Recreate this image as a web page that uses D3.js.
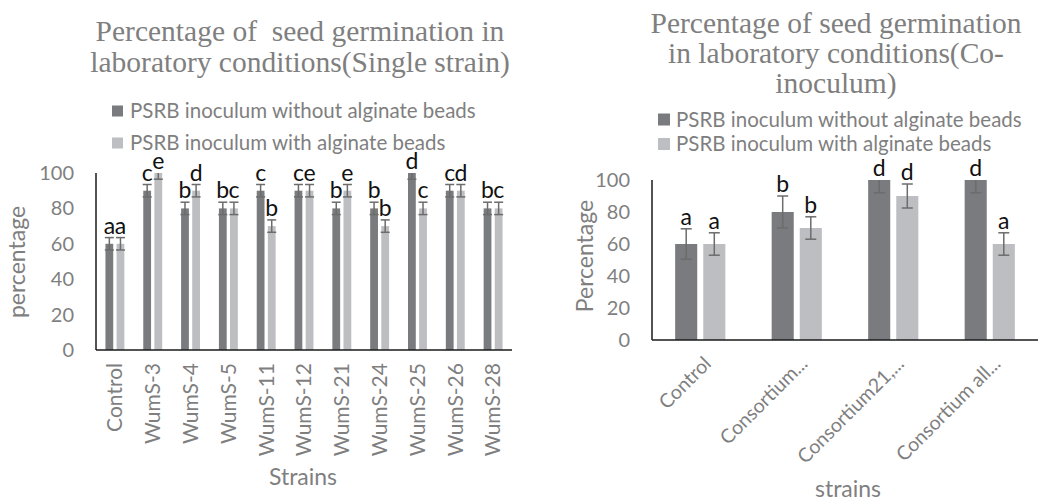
<!DOCTYPE html>
<meta charset="utf-8">
<style>
body { margin: 0; background: #fff; }
svg { display: block; }
.tick-label, .axis-title, .legend text { fill: #7f7f7f; font-family: Lato, "Noto Sans", sans-serif; }
.title { fill: #7f7f7f; font-family: "Liberation Serif", "DejaVu Serif", serif; font-size: 29.5px; white-space: pre; }
.letter { fill: #111; font-family: Lato, "Noto Sans", sans-serif; font-size: 23px; text-anchor: middle; }
</style>
<svg width="1040" height="502"></svg>
<script src="https://d3js.org/d3.v7.min.js"></script>
<script>

var seriesNames = ["PSRB inoculum without alginate beads", "PSRB inoculum with alginate beads"];
var seriesColors = ["#7a7b7f", "#bdbec2"];

// single strain chart
var singleStrains = ["Control", "WumS-3", "WumS-4", "WumS-5", "WumS-11", "WumS-12", "WumS-21", "WumS-24", "WumS-25", "WumS-26", "WumS-28"];
var singleWithout = [60, 90, 80, 80, 90, 90, 80, 80, 100, 90, 80];
var singleWith = [60, 100, 90, 80, 70, 90, 90, 70, 80, 90, 80];
var singleErrWithout = [3.5, 3.5, 3.5, 3.5, 3.5, 3.5, 3.5, 3.5, 3.5, 3.5, 3.5];
var singleErrWith = [3.5, 3.5, 3.5, 3.5, 3.5, 3.5, 3.5, 3.5, 3.5, 3.5, 3.5];
var singleLetWithout = ["a", "c", "b", "b", "c", "c", "b", "b", "d", "c", "b"];
var singleLetWith = ["a", "e", "d", "c", "b", "e", "e", "b", "c", "d", "c"];

// co-inoculum chart
var coStrains = ["Control", "Consortium...", "Consortium21,...", "Consortium all..."];
var coWithout = [60, 80, 100, 100];
var coWith = [60, 70, 90, 60];
var coErrWithout = [9.5, 10, 8, 8];
var coErrWith = [7, 7, 7.5, 7];
var coLetWithout = ["a", "b", "d", "d"];
var coLetWith = ["a", "b", "d", "a"];

var yTicks = [0, 20, 40, 60, 80, 100];

var svg = d3.select("svg");

function drawChart(cfg) {
  var g = svg.append("g");

  var x0 = d3.scaleBand()
      .domain(cfg.cats)
      .range([cfg.left, cfg.right])
      .paddingInner(cfg.gap)
      .paddingOuter(cfg.gap / 2);
  var x1 = d3.scaleBand()
      .domain([0, 1])
      .range([0, x0.bandwidth()])
      .paddingInner(cfg.inner);
  var y = d3.scaleLinear().domain([0, 100]).range([cfg.bottom, cfg.top]);

  var rows = cfg.cats.map(function(c, i) {
    return [
      {cat: c, s: 0, v: cfg.without[i], e: cfg.errWithout[i], l: cfg.letWithout[i]},
      {cat: c, s: 1, v: cfg.with[i], e: cfg.errWith[i], l: cfg.letWith[i]}
    ];
  });
  var items = d3.merge(rows);

  // bars
  g.selectAll("rect.bar")
    .data(items)
    .enter().append("rect")
      .attr("class", "bar")
      .attr("x", function(d) { return x0(d.cat) + x1(d.s); })
      .attr("y", function(d) { return y(d.v); })
      .attr("width", x1.bandwidth())
      .attr("height", function(d) { return y(0) - y(d.v); })
      .attr("fill", function(d) { return seriesColors[d.s]; });

  // error bars, clipped at the axis maximum like Excel does
  var eb = g.selectAll("g.err")
    .data(items)
    .enter().append("g")
      .attr("class", "err")
      .attr("stroke", "#6c6c6c")
      .attr("stroke-width", 1.5);
  var cx = function(d) { return x0(d.cat) + x1(d.s) + x1.bandwidth() / 2; };
  var hi = function(d) { return Math.min(d.v + d.e, 100); };
  eb.append("line")
    .attr("x1", cx).attr("x2", cx)
    .attr("y1", function(d) { return y(hi(d)); })
    .attr("y2", function(d) { return y(d.v - d.e); });
  eb.append("line")
    .attr("x1", function(d) { return cx(d) - cfg.cap / 2; })
    .attr("x2", function(d) { return cx(d) + cfg.cap / 2; })
    .attr("y1", function(d) { return y(d.v - d.e); })
    .attr("y2", function(d) { return y(d.v - d.e); });
  eb.filter(function(d) { return d.v + d.e <= 100; }).append("line")
    .attr("x1", function(d) { return cx(d) - cfg.cap / 2; })
    .attr("x2", function(d) { return cx(d) + cfg.cap / 2; })
    .attr("y1", function(d) { return y(d.v + d.e); })
    .attr("y2", function(d) { return y(d.v + d.e); });

  // significance letters
  g.selectAll("text.letter")
    .data(items)
    .enter().append("text")
      .attr("class", "letter")
      .attr("x", cx)
      .attr("y", function(d) { return y(hi(d)) - 4; })
      .text(function(d) { return d.l; });

  // y axis labels
  g.selectAll("text.ytick")
    .data(yTicks)
    .enter().append("text")
      .attr("class", "tick-label")
      .attr("x", cfg.left - 22)
      .attr("y", function(d) { return y(d); })
      .attr("dy", "0.35em")
      .attr("text-anchor", "end")
      .style("font-size", cfg.yTickSize + "px")
      .text(function(d) { return d; });

  // axis lines
  g.append("line")
    .attr("x1", cfg.left).attr("x2", cfg.left)
    .attr("y1", cfg.top).attr("y2", cfg.bottom)
    .attr("stroke", "#1a1a1a").attr("stroke-width", 1.5);
  g.append("line")
    .attr("x1", cfg.left).attr("x2", cfg.right)
    .attr("y1", cfg.bottom).attr("y2", cfg.bottom)
    .attr("stroke", "#1a1a1a").attr("stroke-width", 1.5);

  // category labels
  g.selectAll("text.xtick")
    .data(cfg.cats)
    .enter().append("text")
      .attr("class", "tick-label")
      .attr("text-anchor", "end")
      .attr("dy", cfg.rotate == -90 ? "0.35em" : 0)
      .attr("transform", function(d) {
        var px = x0(d) + x0.bandwidth() / 2 + cfg.labelDx;
        return "translate(" + px + "," + (cfg.bottom + cfg.labelDy) + ") rotate(" + cfg.rotate + ")";
      })
      .style("font-size", cfg.xTickSize + "px")
      .text(function(d) { return d; });

  // axis titles
  g.append("text")
    .attr("class", "axis-title")
    .attr("text-anchor", "middle")
    .attr("x", cfg.xTitle[0]).attr("y", cfg.xTitle[1])
    .style("font-size", cfg.titleSize + "px")
    .text(cfg.xLabel);
  g.append("text")
    .attr("class", "axis-title")
    .attr("text-anchor", "middle")
    .attr("dy", "0.35em")
    .attr("transform", "translate(" + cfg.yTitle[0] + "," + cfg.yTitle[1] + ") rotate(-90)")
    .style("font-size", cfg.titleSize + "px")
    .text(cfg.yLabel);

  // chart title
  g.append("text")
    .attr("class", "title")
    .attr("text-anchor", "middle")
    .selectAll("tspan")
    .data(cfg.title)
    .enter().append("tspan")
      .attr("x", cfg.titlePos[0])
      .attr("y", function(d, i) { return cfg.titlePos[1] + i * cfg.titleStep; })
      .text(function(d) { return d; });

  // legend
  var lg = g.selectAll("g.legend")
    .data(seriesNames)
    .enter().append("g")
      .attr("class", "legend")
      .attr("transform", function(d, i) {
        return "translate(" + cfg.legend[0] + "," + (cfg.legend[1] + i * cfg.legendStep) + ")";
      });
  lg.append("rect")
    .attr("x", 0).attr("y", -cfg.legendBox / 2)
    .attr("width", cfg.legendBox).attr("height", cfg.legendBox)
    .attr("fill", function(d, i) { return seriesColors[i]; });
  lg.append("text")
    .attr("x", cfg.legendText)
    .attr("dy", "0.35em")
    .style("font-size", cfg.legendSize + "px")
    .text(function(d) { return d; });
}

drawChart({
  cats: singleStrains, without: singleWithout, with: singleWith,
  errWithout: singleErrWithout, errWith: singleErrWith,
  letWithout: singleLetWithout, letWith: singleLetWith,
  left: 96, right: 512, top: 173, bottom: 350,
  gap: 0.5, inner: 0.3, cap: 9,
  rotate: -90, labelDx: 0, labelDy: 13,
  yTickSize: 20, xTickSize: 21, titleSize: 23, legendSize: 20.5,
  xLabel: "Strains", xTitle: [303, 485],
  yLabel: "percentage", yTitle: [17, 262],
  title: ["Percentage of  seed germination in", "laboratory conditions(Single strain)"],
  titlePos: [300, 41], titleStep: 31,
  legend: [112, 111], legendStep: 32, legendBox: 11, legendText: 18
});

drawChart({
  cats: coStrains, without: coWithout, with: coWith,
  errWithout: coErrWithout, errWith: coErrWith,
  letWithout: coLetWithout, letWith: coLetWith,
  left: 652, right: 1038, top: 180, bottom: 340,
  gap: 0.48, inner: 0.214, cap: 11,
  rotate: -45, labelDx: 12, labelDy: 25,
  yTickSize: 20, xTickSize: 19.5, titleSize: 23, legendSize: 20.5,
  xLabel: "strains", xTitle: [848, 497],
  yLabel: "Percentage", yTitle: [585, 256],
  title: ["Percentage of seed germination", "in laboratory conditions(Co-", "inoculum)"],
  titlePos: [836, 33], titleStep: 30,
  legend: [658, 119.5], legendStep: 24.5, legendBox: 12, legendText: 18
});

</script>
